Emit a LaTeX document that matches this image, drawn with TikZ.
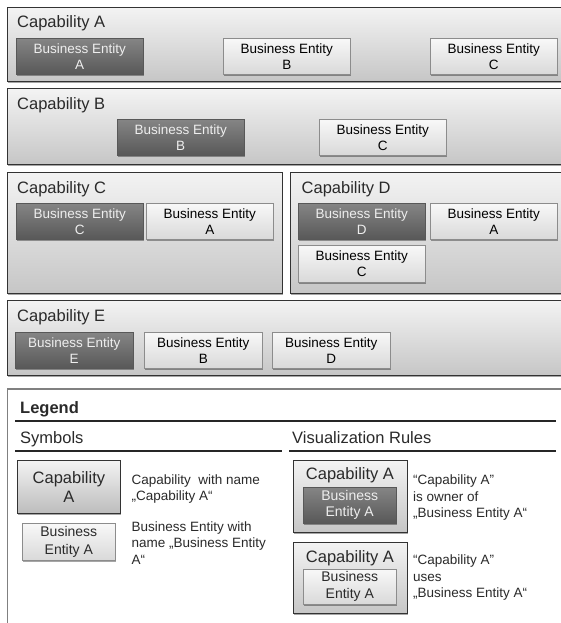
\documentclass[tikz,border=0pt]{standalone}
\usepackage{fontspec}
\setmainfont{Liberation Sans}
\usetikzlibrary{shadows}
\definecolor{capTop}{HTML}{F3F3F3}
\definecolor{capBot}{HTML}{C6C6C6}
\definecolor{darkTop}{HTML}{858585}
\definecolor{darkBot}{HTML}{585858}
\definecolor{lightTop}{HTML}{F8F8F8}
\definecolor{lightBot}{HTML}{D9D9D9}
\definecolor{txt}{HTML}{2A2A2A}
\definecolor{entTxt}{HTML}{EEEEEE}
\newcommand{\titlefont}{\fontsize{16.5}{19}\selectfont}
\newcommand{\entfont}{\fontsize{13.5}{16}\selectfont}
\newcommand{\descfont}{\fontsize{13.5}{16.5}\selectfont}
\tikzset{
  shad/.style={drop shadow={shadow xshift=1pt, shadow yshift=-1.5pt, opacity=0.35, fill=black}},
  capbox/.style={draw=black!80, line width=0.8pt, top color=capTop, bottom color=capBot,
    inner sep=0, anchor=north west, shad},
  ownent/.style={top color=darkTop, bottom color=darkBot, draw=darkBot, line width=0.4pt,
    text=entTxt, font=\entfont, align=center, inner sep=0, anchor=north west,
    minimum width=127pt, minimum height=36pt, shad},
  useent/.style={top color=lightTop, bottom color=lightBot, draw=black!45, line width=0.6pt,
    text=black, font=\entfont, align=center, inner sep=0, anchor=north west,
    minimum width=127pt, minimum height=36pt, shad},
  captitle/.style={anchor=base west, inner sep=0, text=txt, font=\titlefont},
  desc/.style={anchor=north west, inner sep=0, text=txt, font=\descfont, align=left},
  rule/.style={line width=1.3pt, draw=black!85},
}
\begin{document}
\begin{tikzpicture}[x=1pt, y=-1pt]
\useasboundingbox (0,0) rectangle (561,623);
\clip (0,0) rectangle (561,623);
\fill[white] (0,0) rectangle (561,623);

% Capability A
\node[capbox, minimum width=560pt, minimum height=74pt] (capA) at (7,7) {};
\node[captitle] (capAt) at (17,28) {Capability A};
\node[ownent] (aA) at (16,38) {Business Entity\\A};
\node[useent] (aB) at (223,38) {Business Entity\\B};
\node[useent] (aC) at (430,38) {Business Entity\\C};

% Capability B
\node[capbox, minimum width=560pt, minimum height=75.5pt] (capB) at (7,88.5) {};
\node[captitle] (capBt) at (17,109.5) {Capability B};
\node[ownent] (bB) at (117,119) {Business Entity\\B};
\node[useent] (bC) at (319,119) {Business Entity\\C};

% Capability C
\node[capbox, minimum width=275pt, minimum height=121pt] (capC) at (7,172) {};
\node[captitle] (capCt) at (17,193) {Capability C};
\node[ownent] (cC) at (16,203) {Business Entity\\C};
\node[useent] (cA) at (146,203) {Business Entity\\A};

% Capability D
\node[capbox, minimum width=280pt, minimum height=121pt] (capD) at (290,172) {};
\node[captitle] (capDt) at (301.5,193) {Capability D};
\node[ownent] (dD) at (298,203) {Business Entity\\D};
\node[useent] (dA) at (430,203) {Business Entity\\A};
\node[useent, minimum height=37pt] (dC) at (298,245) {Business Entity\\C};

% Capability E
\node[capbox, minimum width=560pt, minimum height=75pt] (capE) at (7,300) {};
\node[captitle] (capEt) at (17,321) {Capability E};
\node[ownent, minimum width=118pt] (eE) at (15,332) {Business Entity\\E};
\node[useent, minimum width=118pt] (eB) at (144,332) {Business Entity\\B};
\node[useent, minimum width=118pt] (eD) at (272,332) {Business Entity\\D};

% Legend frame
\coordinate (lgTL) at (7,389);
\coordinate (lgTR) at (565,389);
\coordinate (lgBL) at (7,630);
\draw[black!50, line width=0.8pt] (lgTL) -- (lgBL);
\draw[black!50, line width=2pt] (lgTL) -- (lgTR);
\node[anchor=base west, inner sep=0, text=txt, font=\titlefont\bfseries] (lgT) at (20,413) {Legend};
\coordinate (l1a) at (15,421);
\coordinate (l1b) at (556,421);
\draw[rule] (l1a) -- (l1b);
\node[captitle] (symT) at (20,443) {Symbols};
\node[captitle] (vizT) at (292,443) {Visualization Rules};
\coordinate (l2a) at (15,451);
\coordinate (l2b) at (282,451);
\coordinate (l3a) at (289,451);
\coordinate (l3b) at (556,451);
\draw[rule] (l2a) -- (l2b);
\draw[rule] (l3a) -- (l3b);

% Symbols
\node[capbox, minimum width=103pt, minimum height=53pt, top color=capTop, bottom color=capBot!95!black,
  align=center, text=txt, font=\fontsize{16.5}{19}\selectfont] (symCap) at (17,460) {Capability\\A};
\node[useent, minimum width=93pt, minimum height=37pt, font=\fontsize{14}{17.5}\selectfont,
  text=txt] (symEnt) at (22,523) {Business\\Entity A};
\node[desc] (symCapD) at (131.5,474.5) {Capability\ \ with name\\„Capability A“};
\node[desc] (symEntD) at (131.5,521.5) {Business Entity with\\name „Business Entity\\A“};

% Visualization rules
\node[capbox, minimum width=114pt, minimum height=72pt] (vOwn) at (293,460) {};
\node[anchor=base, inner sep=0, text=txt, font=\titlefont] (vOwnT) at (350,479) {Capability A};
\node[ownent, minimum width=93pt, minimum height=36pt, font=\fontsize{14}{16}\selectfont] (vOwnE) at (303,487) {Business\\Entity A};
\node[desc] (vOwnD) at (413,475) {“Capability A”\\is owner of\\„Business Entity A“};

\node[capbox, minimum width=114pt, minimum height=71pt] (vUse) at (293,542) {};
\node[anchor=base, inner sep=0, text=txt, font=\titlefont] (vUseT) at (350,562) {Capability A};
\node[useent, minimum width=93pt, minimum height=35pt, font=\fontsize{14}{17}\selectfont, text=txt] (vUseE) at (303,569) {Business\\Entity A};
\node[desc] (vUseD) at (413,555) {“Capability A”\\uses\\„Business Entity A“};
\end{tikzpicture}
\end{document}
